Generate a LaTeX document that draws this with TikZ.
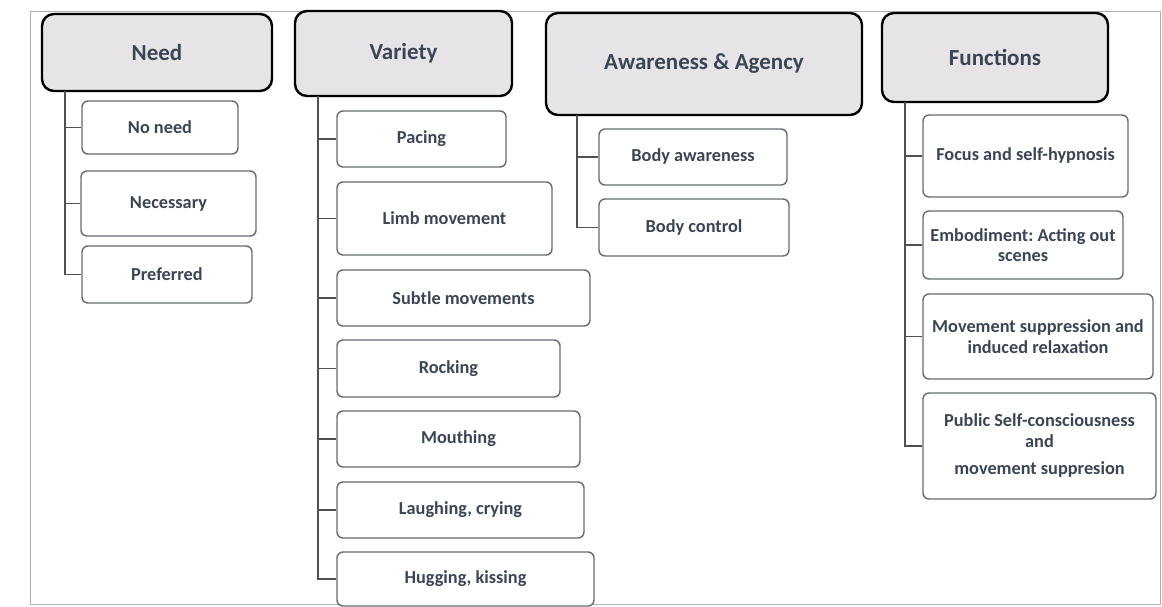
\documentclass[tikz,border=0pt]{standalone}
\usepackage{fontspec}
\setmainfont{Carlito}
\frenchspacing
\definecolor{txt}{HTML}{3C4556}
\definecolor{hdrfill}{HTML}{E6E4E6}
\definecolor{boxline}{HTML}{666A72}
\definecolor{connline}{HTML}{505050}
\definecolor{frameline}{HTML}{B0B0B0}
\begin{document}
\begin{tikzpicture}[x=1pt,y=-1pt,
  header/.style={draw=black, line width=2.4pt, fill=hdrfill, rounded corners=12pt,
    text=txt, font=\fontsize{23}{26}\selectfont\bfseries, inner sep=0pt},
  child/.style={draw=boxline, line width=1.4pt, fill=white, rounded corners=6pt,
    text=txt, font=\fontsize{18.3}{20.5}\selectfont\bfseries, inner sep=0pt, align=center},
  conn/.style={draw=connline, line width=1.5pt}]
\useasboundingbox (0,0) rectangle (1162,606);
\node[draw=frameline, line width=1pt, minimum width=1130pt, minimum height=593pt, inner sep=0pt] (frame) at (595,307.5) {};
% headers
\node[header, minimum width=230pt, minimum height=77pt] (need) at (157,52.5) {Need};
\node[header, minimum width=217pt, minimum height=85pt] (variety) at (403.5,53.5) {Variety};
\node[header, minimum width=316pt, minimum height=102pt] (aware) at (704,64) {Awareness \& Agency};
\node[header, minimum width=226pt, minimum height=89pt] (func) at (995,57.5) {Functions};
% trunk tops
\coordinate (needT) at (65,91);
\coordinate (varT) at (318,96);
\coordinate (awT) at (577,115);
\coordinate (funT) at (905,102);
% Need children
\node[child, minimum width=156pt, minimum height=53pt] (n1) at (160,127.5) {No need};
\node[child, minimum width=175pt, minimum height=65pt] (n2) at (168.5,203.5) {Necessary};
\node[child, minimum width=170pt, minimum height=57pt] (n3) at (167,274.5) {Preferred};
% Variety children
\node[child, minimum width=169pt, minimum height=56pt] (v1) at (421.5,139) {Pacing};
\node[child, minimum width=215pt, minimum height=73pt] (v2) at (444.5,218.5) {Limb movement};
\node[child, minimum width=253pt, minimum height=56pt] (v3) at (463.5,298) {Subtle movements};
\node[child, minimum width=223pt, minimum height=57pt] (v4) at (448.5,368.5) {Rocking};
\node[child, minimum width=243pt, minimum height=56pt] (v5) at (458.5,439) {Mouthing};
\node[child, minimum width=247pt, minimum height=56pt] (v6) at (460.5,510) {Laughing, crying};
\node[child, minimum width=257pt, minimum height=54pt] (v7) at (465.5,579) {Hugging, kissing};
% Awareness children
\node[child, minimum width=188pt, minimum height=56pt] (a1) at (693,157) {Body awareness};
\node[child, minimum width=190pt, minimum height=57pt] (a2) at (694,227.5) {Body control};
% Functions children
\node[child, minimum width=205pt, minimum height=82pt] (f1) at (1025.5,156) {Focus and self-hypnosis};
\node[child, minimum width=200pt, minimum height=68pt] (f2) at (1023,245) {Embodiment: Acting out\\scenes};
\node[child, minimum width=230pt, minimum height=85pt] (f3) at (1038,336.5) {Movement suppression and\\induced relaxation};
\node[child, minimum width=233pt, minimum height=106pt] (f4) at (1039.5,446) {Public Self-consciousness\\and\\[7pt]movement suppresion};
% connectors
\foreach \c in {n1,n2,n3} \draw[conn] (needT) |- (\c.west);
\foreach \c in {v1,v2,v3,v4,v5,v6,v7} \draw[conn] (varT) |- (\c.west);
\foreach \c in {a1,a2} \draw[conn] (awT) |- (\c.west);
\foreach \c in {f1,f2,f3,f4} \draw[conn] (funT) |- (\c.west);
\end{tikzpicture}
\end{document}
